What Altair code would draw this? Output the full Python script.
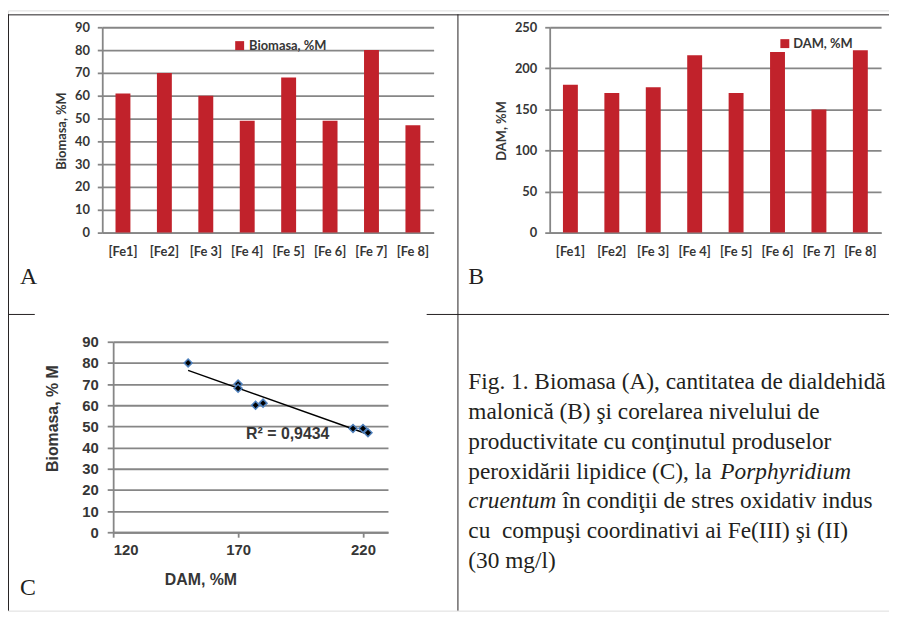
import altair as alt
import pandas as pd

# ---------------- data ----------------
categories = ["[Fe1]", "[Fe2]", "[Fe 3]", "[Fe 4]", "[Fe 5]", "[Fe 6]", "[Fe 7]", "[Fe 8]"]
biomasa = [61, 70, 60, 49, 68, 49, 80, 47]
dam = [180, 170, 177, 216, 170, 220, 150, 222]
biomasa_ticks = [0, 10, 20, 30, 40, 50, 60, 70, 80, 90]
dam_ticks = [0, 50, 100, 150, 200, 250]
corr_x_ticks = [120, 170, 220]
corr_y_ticks = [0, 10, 20, 30, 40, 50, 60, 70, 80, 90]
series_a = "Biomasa, %M"
series_b = "DAM, %M"
title_a_y = "Biomasa, %M"
title_b_y = "DAM, %M"
title_c_x = "DAM, %M"
title_c_y = "Biomasa, % M"
r2_text = "R² = 0,9434"
caption_regular_lines = [0, 1, 2, 3, 5, 6]
caption_regular_text = [
    "Fig. 1. Biomasa (A), cantitatea de dialdehidă",
    "malonică (B) şi corelarea nivelului de",
    "productivitate cu conţinutul produselor",
    "peroxidării lipidice (C), la",
    "cu\u00a0\u00a0compuşi coordinativi ai Fe(III) şi (II)",
    "(30 mg/l)",
]
caption_italic_1 = "Porphyridium"
caption_italic_2 = "cruentum"
caption_rest_2 = "în condiţii de stres oxidativ indus"

W, H = 888, 605
RED = "#C1222B"
GRID = "#868686"
GW = 1.8
TXT = "#363636"
LINE = "#231f20"
CAL = "Lato"
ARIAL = "Liberation Sans"
TIMES = "Liberation Serif"

dfA = pd.DataFrame({"cat": categories, "val": biomasa, "series": [series_a] * len(categories)})
dfB = pd.DataFrame({"cat": categories, "val": dam, "series": [series_b] * len(categories)})
dfC = pd.DataFrame({"dam": dam, "bio": biomasa})
one = pd.DataFrame({"k": [0]})


def bar_panel(df, x0, x1, ymax, ticks, ytitle, title_x, series, leg_x, leg_y, leg_off):
    return alt.Chart(df).mark_bar().encode(
        x=alt.X(
            "cat:N", sort=categories,
            scale=alt.Scale(range=[x0, x1], paddingInner=0.64, paddingOuter=0.32),
            axis=alt.Axis(orient="bottom", offset=224 - H, title=None, ticks=False, grid=False,
                          labelAngle=0, labelFont=CAL, labelFontSize=13, labelFontWeight="bold",
                          labelColor=TXT, labelPadding=13, domainColor=GRID, domainWidth=GW),
        ),
        y=alt.Y(
            "val:Q",
            scale=alt.Scale(domain=[0, ymax], range=[224, 17], nice=False),
            axis=alt.Axis(orient="left", offset=-x0, values=ticks, grid=True, gridColor=GRID,
                          gridWidth=GW, domainColor=GRID, domainWidth=GW, tickColor=GRID,
                          tickWidth=GW, tickSize=5, labelFont=CAL, labelFontSize=13,
                          labelFontWeight="bold", labelColor=TXT, labelPadding=8,
                          title=ytitle, titleFont=CAL, titleFontSize=13, titleFontWeight="bold",
                          titleColor=TXT, titleX=title_x, titleY=121, titleAngle=270,
                          titleAlign="center", titleBaseline="middle"),
        ),
        color=alt.Color(
            "series:N",
            scale=alt.Scale(domain=[series], range=[RED]),
            legend=alt.Legend(orient="none", legendX=leg_x, legendY=leg_y, title=None,
                              symbolType="square", symbolSize=81, symbolStrokeWidth=0,
                              labelFont=CAL, labelFontSize=13, labelFontWeight="bold",
                              labelColor=TXT, labelOffset=leg_off, padding=0),
        ),
    )


barsA = bar_panel(dfA, 95, 429, 90, biomasa_ticks, title_a_y, -41, series_a, 227, 29, 3)
barsB = bar_panel(dfB, 546, 880, 250, dam_ticks, title_b_y, -49, series_b, 776.5, 27, 2)

# ---------------- panel C ----------------
def xC():
    return alt.Scale(domain=[120, 230], range=[106, 383], nice=False)


def yC():
    return alt.Scale(domain=[0, 90], range=[526, 334], nice=False)


pointsC = alt.Chart(dfC).mark_point(
    shape="diamond", fill="black", fillOpacity=1, stroke="#4F81BD", strokeWidth=1.5,
    size=64, opacity=1
).encode(
    x=alt.X("dam:Q", scale=xC(),
            axis=alt.Axis(orient="bottom", offset=526 - H, values=corr_x_ticks, grid=False,
                          domainColor=GRID, domainWidth=GW, tickColor=GRID, tickWidth=GW,
                          tickSize=5, labelFont=ARIAL, labelFontSize=15, labelFontWeight="bold",
                          labelColor=TXT, labelPadding=5, title=title_c_x, titleFont=ARIAL,
                          titleFontSize=16, titleFontWeight="bold", titleColor=TXT,
                          titleX=194, titleY=48, titleAlign="center", titleBaseline="middle")),
    y=alt.Y("bio:Q", scale=yC(),
            axis=alt.Axis(orient="left", offset=-106, values=corr_y_ticks, grid=True,
                          gridColor=GRID, gridWidth=GW, domainColor=GRID, domainWidth=GW,
                          tickColor=GRID, tickWidth=GW, tickSize=6, labelFont=ARIAL,
                          labelFontSize=15, labelFontWeight="bold", labelColor=TXT,
                          labelPadding=9, title=title_c_y, titleFont=ARIAL, titleFontSize=16,
                          titleFontWeight="bold", titleColor=TXT, titleX=-61, titleY=411,
                          titleAngle=270, titleAlign="center", titleBaseline="middle")),
)

trendC = alt.Chart(dfC).transform_regression("dam", "bio").mark_line(
    color="black", strokeWidth=1.5
).encode(
    x=alt.X("dam:Q", scale=xC(), axis=None),
    y=alt.Y("bio:Q", scale=yC(), axis=None),
)

r2C = alt.Chart(pd.DataFrame({"t": [r2_text]})).mark_text(
    align="left", baseline="middle", font=ARIAL, fontSize=16, fontWeight="bold", color=TXT
).encode(
    x=alt.XDatum(173.2, scale=xC(), axis=None),
    y=alt.YDatum(46.4, scale=yC(), axis=None),
    text="t:N",
)

# ---------------- caption ----------------
def cap_text(lines, texts, x, italic):
    return alt.Chart(pd.DataFrame({"line": lines, "text": texts})).mark_text(
        align="left", baseline="alphabetic", font=TIMES, fontSize=23.5,
        fontStyle="italic" if italic else "normal", color="#231f20"
    ).encode(
        x=alt.value(x),
        y=alt.Y("line:Q", scale=alt.Scale(domain=[0, 6], range=[382, 562]), axis=None),
        text="text:N",
    )


caption = [
    cap_text(caption_regular_lines, caption_regular_text, 464, False),
    cap_text([3], [caption_italic_1], 718, True),
    cap_text([4], [caption_italic_2], 464, True),
    cap_text([4], [caption_rest_2], 559, False),
]

# ---------------- frame & letters ----------------
def rule(**enc):
    return alt.Chart(one).mark_rule(color=LINE, strokeWidth=1).encode(**enc)


frame = [
    rule(x=alt.value(0), x2=alt.value(W), y=alt.value(4.5)),
    rule(x=alt.value(0.5), y=alt.value(4), y2=alt.value(H)),
    rule(x=alt.value(453.5), y=alt.value(4), y2=alt.value(H)),
    rule(x=alt.value(0), x2=alt.value(27), y=alt.value(306.5)),
    rule(x=alt.value(422), x2=alt.value(W), y=alt.value(306.5)),
]


def letter(t, x, y):
    return alt.Chart(pd.DataFrame({"t": [t]})).mark_text(
        align="left", baseline="alphabetic", font=TIMES, fontSize=24, color="#231f20"
    ).encode(x=alt.value(x), y=alt.value(y), text="t:N")


letters = [letter("A", 12, 276), letter("B", 464, 276), letter("C", 12, 589)]

chart = alt.layer(
    *frame, barsA, barsB, trendC, pointsC, r2C, *caption, *letters
).resolve_scale(
    x="independent", y="independent", color="independent"
).resolve_axis(
    x="independent", y="independent"
).resolve_legend(
    color="independent"
).properties(
    width=W, height=H, autosize=alt.AutoSizeParams(type="none"), padding=0
).configure_view(stroke=None).configure(background="white")

chart.save("out.html", embed_options={"renderer": "svg", "actions": False})
